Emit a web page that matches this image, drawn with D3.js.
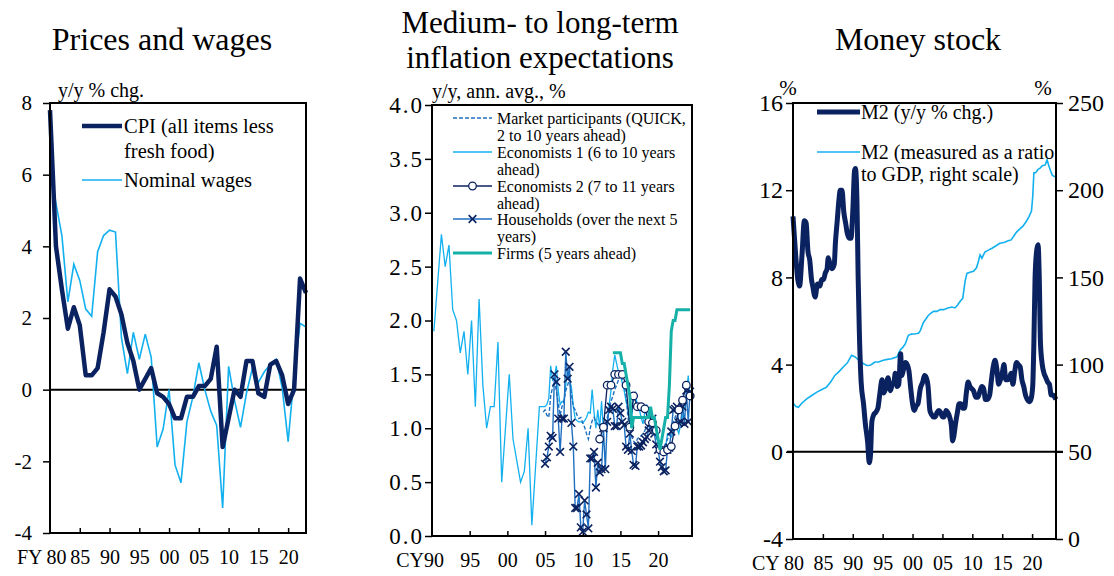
<!DOCTYPE html>
<html>
<head>
<meta charset="utf-8">
<script src="https://cdn.jsdelivr.net/npm/d3@7"></script>
<style>
  body { margin: 0; background: #fff; }
  text { font-family: "Liberation Serif", "Times New Roman", serif; fill: #000; }
</style>
</head>
<body>
<svg id="chart" width="1114" height="576"></svg>
<script>
// ---- data: prices and wages (fiscal years) ----
var fyYears = d3.range(1980, 2024);
var cpiValues = [7.8, 4.0, 2.8, 1.7, 2.3, 1.8, 0.4, 0.4, 0.6, 1.6, 2.8, 2.6, 2.1, 1.3, 0.8, 0.0, 0.3, 0.6, -0.1, -0.2,
  -0.4, -0.8, -0.8, -0.2, -0.2, 0.1, 0.1, 0.3, 1.2, -1.6, -0.8, 0.0, -0.2, 0.8, 0.8, -0.1, -0.2, 0.7, 0.8, 0.4,
  -0.4, 0.0, 3.1, 2.7];
var wageValues = [6.2, 5.2, 4.3, 2.45, 3.5, 3.05, 2.25, 2.05, 3.85, 4.3, 4.45, 4.4, 1.45, 0.45, 1.6, 0.85, 1.55, 0.9, -1.6, -1.1,
  0.0, -2.1, -2.6, -0.9, -0.2, 0.75, 0.0, -0.6, -1.0, -3.3, 0.65, -0.3, -1.05, -0.1, 0.6, 0.2, 0.5, 0.7, 0.85, 0.05,
  -1.45, 0.4, 1.85, 1.75];
var pwTicksX = [1980, 1985, 1990, 1995, 2000, 2005, 2010, 2015, 2020];
var pwTicksY = [-4, -2, 0, 2, 4, 6, 8];

// ---- data: inflation expectations [year, %] ----
var marketData = [[2004.75,1.15],[2005,1.17],[2005.25,1.12],[2005.5,1.1],[2005.75,1.3],[2006,1.38],[2006.25,1.44],[2006.5,1.35],
  [2006.75,1.23],[2007,1.12],[2007.25,1.2],[2007.5,1.25],[2007.75,1.35],[2008,1.4],[2008.25,1.46],[2008.5,1.32],[2008.75,1.2],
  [2009,1.17],[2009.25,1.12],[2009.5,1.09],[2009.75,1.1],[2010,1.05],[2010.25,1.01],[2010.5,0.95],[2010.75,0.9],[2011,1.0],
  [2011.25,1.07],[2011.5,1.1],[2011.75,1.06],[2012,1.04],[2012.25,1.02],[2012.5,1.01],[2012.75,1.02],[2013,1.04],[2013.25,1.1],
  [2013.5,1.17],[2013.75,1.25],[2014,1.3],[2014.25,1.36],[2014.5,1.4],[2014.75,1.45],[2015,1.5],[2015.25,1.45],[2015.5,1.4],
  [2015.75,1.3],[2016,1.1],[2016.25,1.02],[2016.5,0.92],[2016.75,0.88],[2017,0.86],[2017.25,0.9],[2017.5,0.92],[2017.75,0.93],
  [2018,0.95],[2018.25,0.98],[2018.5,1.02],[2018.75,1.04],[2019,1.0],[2019.25,0.98],[2019.5,0.95],[2019.75,0.92],[2020,0.88],
  [2020.25,0.84],[2020.5,0.8],[2020.75,0.82],[2021,0.86],[2021.25,0.9],[2021.5,0.93],[2021.75,1.0],[2022,1.05],[2022.25,1.1],
  [2022.5,1.14],[2022.75,1.17],[2023,1.19],[2023.25,1.2],[2023.5,1.23],[2023.75,1.27],[2024,1.32],[2024.25,1.35]];
var econ1Data = [[1990.25,1.9],[1990.75,2.35],[1991.25,2.8],[1991.75,2.5],[1992.25,2.7],[1992.75,2.1],[1993.25,2.0],[1993.75,1.7],
  [1994.25,1.9],[1994.75,1.5],[1995.25,2.0],[1995.75,1.2],[1996.25,2.2],[1996.75,1.4],[1997.25,1.0],[1997.75,1.2],[1998.25,1.2],
  [1998.75,1.8],[1999.25,0.5],[1999.75,1.0],[2000.25,1.5],[2000.75,0.9],[2001.25,0.7],[2001.75,0.5],[2002.25,0.6],[2002.75,1.0],
  [2003.25,0.1],[2003.75,0.65],[2004.25,1.2],[2004.75,1.2],[2005,1.2],[2005.25,1.22],[2005.5,1.28],[2005.75,1.58],[2006,1.45],
  [2006.25,1.48],[2006.5,1.58],[2006.75,1.35],[2007,1.22],[2007.25,1.25],[2007.5,1.25],[2007.75,1.4],[2008,1.55],[2008.25,1.45],
  [2008.5,1.38],[2008.75,1.2],[2009,1.09],[2009.25,1.07],[2009.5,1.06],[2009.75,1.06],[2010,1.05],[2010.25,1.07],[2010.5,1.1],
  [2010.75,1.15],[2011,1.14],[2011.25,1.36],[2011.5,1.15],[2011.75,1.0],[2012,1.17],[2012.25,1.0],[2012.5,1.25],[2012.75,0.98],
  [2013,1.02],[2013.25,1.0],[2013.5,1.21],[2013.75,1.35],[2014,1.55],[2014.25,1.68],[2014.5,1.6],[2014.75,1.52],[2015,1.5],
  [2015.25,1.42],[2015.5,1.35],[2015.75,1.25],[2016,1.18],[2016.25,1.05],[2016.5,1.1],[2016.75,1.3],[2017,1.33],[2017.25,1.2],
  [2017.5,1.18],[2017.75,1.1],[2018,1.04],[2018.25,1.15],[2018.5,1.22],[2018.75,1.1],[2019,1.06],[2019.25,1.1],[2019.5,1.0],
  [2019.75,0.92],[2020,0.88],[2020.25,0.85],[2020.5,0.83],[2020.75,0.8],[2021,0.82],[2021.25,0.95],[2021.5,0.95],[2021.75,0.92],
  [2022,0.95],[2022.25,1.05],[2022.5,1.0],[2022.75,0.95],[2023,1.04],[2023.25,1.1],[2023.5,1.23],[2023.75,1.3],[2024,1.49],[2024.25,1.26]];
var econ2Data = [[2012.25,0.9],[2012.75,1.01],[2013.25,1.4],[2013.75,1.4],[2014.25,1.5],[2014.75,1.5],[2015.25,1.5],[2015.75,1.4],
  [2016.25,1.01],[2016.75,1.3],[2017.25,1.2],[2017.75,1.2],[2018.25,1.18],[2018.75,1.06],[2019.25,1.05],[2019.75,0.98],[2020.25,0.8],
  [2020.75,0.78],[2021.25,0.8],[2021.75,0.83],[2022.25,1.02],[2022.75,1.17],[2023.25,1.26],[2023.75,1.4],[2024.25,1.3]];
var householdData = [[2005,0.67],[2005.25,0.73],[2005.5,0.83],[2005.75,0.93],[2006,0.91],[2006.25,1.5],[2006.5,1.43],[2006.75,1.09],
  [2007,0.78],[2007.25,1.09],[2007.5,1.09],[2007.75,1.71],[2008,1.46],[2008.25,1.57],[2008.5,1.05],[2008.75,0.83],[2009,0.26],
  [2009.25,0.26],[2009.5,0.39],[2009.75,0.08],[2010,0.04],[2010.25,0.33],[2010.5,0.2],[2010.75,0.07],[2011,0.72],[2011.25,0.72],
  [2011.5,0.78],[2011.75,0.45],[2012,0.68],[2012.25,0.59],[2012.5,0.62],[2012.75,1.0],[2013,0.62],[2013.25,1.06],[2013.5,1.17],
  [2013.75,1.2],[2014,1.18],[2014.25,1.02],[2014.5,1.02],[2014.75,1.2],[2015,1.14],[2015.25,1.06],[2015.5,1.03],[2015.75,0.83],
  [2016,0.8],[2016.25,0.95],[2016.5,0.79],[2016.75,0.66],[2017,0.65],[2017.25,0.83],[2017.5,0.83],[2017.75,0.84],[2018,0.87],
  [2018.25,0.9],[2018.5,0.92],[2018.75,0.98],[2019,1.04],[2019.25,1.09],[2019.5,0.95],[2019.75,0.85],[2020,0.8],[2020.25,0.69],
  [2020.5,0.64],[2020.75,0.6],[2021,0.61],[2021.25,0.8],[2021.5,0.82],[2021.75,0.97],[2022,1.17],[2022.25,1.18],[2022.5,1.2],
  [2022.75,1.05],[2023,1.06],[2023.25,1.2],[2023.5,1.04],[2023.75,1.35],[2024,1.06],[2024.25,1.34]];
var firmsData = [[2014,1.7],[2014.25,1.7],[2014.5,1.7],[2014.75,1.7],[2015,1.7],[2015.25,1.6],[2015.5,1.6],[2015.75,1.5],[2016,1.4],
  [2016.25,1.3],[2016.5,1.0],[2016.75,1.1],[2017,1.1],[2017.25,1.1],[2017.5,1.1],[2017.75,1.1],[2018,1.1],[2018.25,1.1],[2018.5,1.1],
  [2018.75,1.1],[2019,1.2],[2019.25,1.1],[2019.5,1.1],[2019.75,1.0],[2020,0.9],[2020.25,0.8],[2020.5,0.9],[2020.75,1.0],[2021,1.1],
  [2021.25,1.1],[2021.5,1.4],[2021.75,1.9],[2022,2.0],[2022.25,2.0],[2022.5,2.1],[2022.75,2.1],[2023,2.1],[2023.25,2.1],[2023.5,2.1],
  [2023.75,2.1],[2024,2.1],[2024.25,2.1]];
var exTicksX = [1990, 1995, 2000, 2005, 2010, 2015, 2020];
var exTicksY = [0, 0.5, 1, 1.5, 2, 2.5, 3, 3.5, 4];

// ---- data: money stock [year, value] ----
var m2Growth = [[1980,10.8],[1980.4,9.2],[1980.8,7.9],[1981.1,7.6],[1981.5,9.0],[1981.9,10.6],[1982.2,10.5],[1982.5,9.2],[1982.8,8.8],
  [1983.1,7.9],[1983.3,7.6],[1983.7,7.1],[1984.1,7.7],[1984.5,7.6],[1984.8,7.9],[1985.1,7.9],[1985.4,8.2],[1985.7,8.4],[1985.9,8.9],
  [1986.2,8.6],[1986.5,8.4],[1986.9,8.6],[1987.1,9.6],[1987.4,10.6],[1987.7,11.6],[1987.9,12.0],[1988.2,12.0],[1988.5,11.0],
  [1988.8,10.5],[1989.1,10.0],[1989.4,9.8],[1989.7,9.8],[1990,11.0],[1990.3,12.9],[1990.45,13.0],[1990.7,11.5],[1990.9,8.0],
  [1991.1,5.5],[1991.4,3.2],[1991.8,2.2],[1992.1,1.3],[1992.5,0.4],[1992.75,-0.5],[1992.95,-0.2],[1993.2,1.4],[1993.5,1.7],
  [1993.8,1.8],[1994.2,2.0],[1994.5,2.6],[1994.9,3.3],[1995.2,2.7],[1995.5,2.9],[1995.9,3.4],[1996.3,2.8],[1996.6,3.1],[1996.9,3.2],
  [1997.1,3.6],[1997.4,3.0],[1997.7,3.1],[1998,4.5],[1998.2,3.5],[1998.5,3.8],[1998.8,4.1],[1999.1,4.0],[1999.4,3.7],[1999.7,2.9],
  [2000,2.2],[2000.3,1.9],[2000.6,2.1],[2000.9,2.2],[2001.3,2.9],[2001.7,3.2],[2002,3.5],[2002.3,3.4],[2002.6,3.0],[2002.9,1.9],
  [2003.2,1.7],[2003.5,1.6],[2003.8,1.6],[2004.1,1.8],[2004.4,1.9],[2004.7,1.8],[2005,1.6],[2005.3,1.6],[2005.6,1.9],[2005.9,1.8],
  [2006.2,1.6],[2006.5,1.2],[2006.7,0.5],[2006.9,0.7],[2007.2,1.3],[2007.5,1.8],[2007.8,2.2],[2008.1,2.2],[2008.4,2.0],[2008.7,2.0],
  [2009,2.7],[2009.3,3.2],[2009.6,3.0],[2009.9,2.9],[2010.2,2.8],[2010.6,2.5],[2010.9,2.5],[2011.3,2.8],[2011.6,3.0],[2011.9,2.9],
  [2012.2,2.4],[2012.5,2.4],[2012.9,2.6],[2013.2,3.3],[2013.5,3.9],[2013.8,4.2],[2014.1,3.8],[2014.4,3.1],[2014.7,3.3],[2015,3.6],
  [2015.3,4.0],[2015.6,3.3],[2015.9,3.3],[2016.2,3.4],[2016.5,3.6],[2016.8,3.1],[2017.1,3.7],[2017.4,4.1],[2017.7,4.0],[2018,3.9],
  [2018.3,3.3],[2018.6,3.0],[2018.9,2.6],[2019.2,2.4],[2019.5,2.3],[2019.8,2.4],[2020.1,3.0],[2020.3,5.0],[2020.5,8.0],[2020.8,9.3],
  [2021,9.5],[2021.2,8.0],[2021.4,5.0],[2021.7,4.0],[2022,3.6],[2022.3,3.4],[2022.6,3.2],[2022.9,3.1],[2023.2,2.6],[2023.5,2.6],
  [2023.8,2.5],[2024,2.4]];
var m2Ratio = [[1980,78],[1980.5,76],[1980.9,75.5],[1981.5,78],[1982.3,80.4],[1983,82],[1984,84.2],[1985,86],[1985.6,87.1],
  [1986.3,90],[1987,93.8],[1987.7,96],[1988.4,98.6],[1989.1,101],[1989.8,105.3],[1990.4,104.4],[1991,102.5],[1991.8,100.5],
  [1992.4,99.5],[1992.9,99.6],[1993.3,100.5],[1993.7,101.5],[1994.3,101.5],[1995.1,102.5],[1995.8,103],[1996.5,103.4],[1997,104],
  [1997.4,104.4],[1997.9,108.2],[1998.4,110],[1998.8,112],[1999.3,116.8],[1999.8,117.5],[2000.5,117.7],[2001,118],[2001.3,119.5],
  [2001.8,124],[2002.2,126],[2002.6,128],[2003,129.3],[2003.5,130.5],[2004.1,130.5],[2004.6,131.5],[2005.2,131.5],[2005.9,132.5],
  [2006.6,133],[2007.1,132.5],[2007.5,134],[2008,136.5],[2008.4,138],[2008.8,148],[2009.1,152.3],[2009.6,153],[2010.2,153.5],
  [2010.7,155.5],[2011,159],[2011.3,162.9],[2011.6,161],[2012.1,164.5],[2012.6,165.5],[2013.3,166.7],[2013.9,168],[2014.6,169.6],
  [2015.3,170],[2016,171],[2016.5,171.5],[2017,174],[2017.4,176],[2018,178],[2018.5,179.5],[2019.1,182.5],[2019.5,185],[2019.9,188],
  [2020.1,196],[2020.3,210],[2020.6,210],[2021,212],[2021.3,212.5],[2021.7,214],[2022.2,214.5],[2022.5,217.5],[2022.8,214],
  [2023.1,211],[2023.4,208.5],[2023.9,207.6],[2024,207.8]];
var msTicksX = [1980, 1985, 1990, 1995, 2000, 2005, 2010, 2015, 2020];
var msTicksLeft = [-4, 0, 4, 8, 12, 16];
var msTicksRight = [0, 50, 100, 150, 200, 250];

// colours
var navy = "#0b2260", light = "#12b0ef", mid = "#1f6fc0", teal = "#15b0a8";

var svg = d3.select("#chart");

function yy(d) { return String(d % 100).padStart(2, "0"); }
function plain(d) { return String(d); }   // keeps the ASCII hyphen on negatives

// x axis along the bottom with inward ticks, first label gets a prefix
function bottomAxis(x, y0, ticks, prefix, prefixEnd) {
  var g = svg.append("g").attr("transform", "translate(0," + y0 + ")")
    .call(d3.axisBottom(x).tickValues(ticks).tickSize(-5).tickPadding(17).tickFormat(yy));
  g.select(".domain").remove();
  g.selectAll("line").attr("stroke", "#000").attr("stroke-width", 1.5);
  g.selectAll("text").style("font-size", "20px");
  var first = g.selectAll(".tick").filter(function (d) { return d === ticks[0]; });
  first.select("line").remove();
  first.select("text").text(prefix + yy(ticks[0])).attr("text-anchor", "end").attr("x", prefixEnd);
  return g;
}

function sideAxis(axis, xpos, fmt, pad, size, spacing) {
  var g = svg.append("g").attr("transform", "translate(" + xpos + ",0)")
    .call(axis.tickSize(7).tickPadding(pad).tickFormat(fmt));
  g.select(".domain").remove();
  g.selectAll("line").attr("stroke", "#000").attr("stroke-width", 1.5);
  g.selectAll("text").style("font-size", size + "px").style("letter-spacing", (spacing || 0) + "px");
  return g;
}

function frame(x0, y0, x1, y1) {
  svg.append("rect").attr("x", x0).attr("y", y0).attr("width", x1 - x0).attr("height", y1 - y0)
    .attr("fill", "none").attr("stroke", "#000").attr("stroke-width", 2);
}

function label(txt, x, y, size, anchor) {
  return svg.append("text").attr("x", x).attr("y", y).attr("text-anchor", anchor || "start")
    .style("font-size", size + "px").text(txt);
}

// =============== Panel 1: prices and wages ===============
(function () {
  var x = d3.scaleLinear().domain([1980, 2023]).range([50, 306]);
  var y = d3.scaleLinear().domain([-4, 8]).range([533, 103]);

  sideAxis(d3.axisLeft(y).tickValues(pwTicksY), 50, plain, 11, 21);
  bottomAxis(x, 533, pwTicksX, "FY\u2009", 16);

  svg.append("line").attr("x1", x(1980)).attr("x2", x(2023)).attr("y1", y(0)).attr("y2", y(0))
    .attr("stroke", "#000").attr("stroke-width", 2);

  var line = d3.line().x(function (d, i) { return x(fyYears[i]); }).y(function (d) { return y(d); });
  svg.append("path").attr("d", line(wageValues)).attr("fill", "none").attr("stroke", light).attr("stroke-width", 1.6);
  svg.append("path").attr("d", line(cpiValues)).attr("fill", "none").attr("stroke", navy).attr("stroke-width", 4.5)
    .attr("stroke-linejoin", "round");

  frame(50, 103, 306, 533);

  label("Prices and wages", 162, 50, 32, "middle");
  label("y/y % chg.", 58, 97, 20);

  // legend
  svg.append("line").attr("x1", 82).attr("x2", 122).attr("y1", 126).attr("y2", 126).attr("stroke", navy).attr("stroke-width", 4.5);
  label("CPI (all items less", 124, 133, 20.5);
  label("fresh food)", 124, 158, 20.5);
  svg.append("line").attr("x1", 82).attr("x2", 122).attr("y1", 180).attr("y2", 180).attr("stroke", light).attr("stroke-width", 1.6);
  label("Nominal wages", 124, 187, 20.5);
})();

// =============== Panel 2: inflation expectations ===============
(function () {
  var x = d3.scaleLinear().domain([1990, 2024.5]).range([432, 692]);
  var y = d3.scaleLinear().domain([0, 4]).range([536, 105]);

  sideAxis(d3.axisLeft(y).tickValues(exTicksY), 432, d3.format(".1f"), 1, 23, 2);
  bottomAxis(x, 536, exTicksX, "CY", 11.5);

  var line = d3.line().x(function (d) { return x(d[0]); }).y(function (d) { return y(d[1]); });
  var xSym = d3.symbol().type(d3.symbolX).size(40);

  svg.append("path").attr("d", line(econ1Data)).attr("fill", "none").attr("stroke", light).attr("stroke-width", 1.3);
  svg.append("path").attr("d", line(marketData)).attr("fill", "none").attr("stroke", mid).attr("stroke-width", 1.4)
    .attr("stroke-dasharray", "4,2");
  svg.append("path").attr("d", line(householdData)).attr("fill", "none").attr("stroke", mid).attr("stroke-width", 1.4);
  svg.selectAll(".hh").data(householdData).enter().append("path").attr("class", "hh")
    .attr("transform", function (d) { return "translate(" + x(d[0]) + "," + y(d[1]) + ")"; })
    .attr("d", xSym).attr("fill", "none").attr("stroke", navy).attr("stroke-width", 1.6);
  svg.append("path").attr("d", line(econ2Data)).attr("fill", "none").attr("stroke", navy).attr("stroke-width", 1.3);
  svg.selectAll(".e2").data(econ2Data).enter().append("circle").attr("class", "e2")
    .attr("cx", function (d) { return x(d[0]); }).attr("cy", function (d) { return y(d[1]); })
    .attr("r", 3.8).attr("fill", "#fff").attr("stroke", navy).attr("stroke-width", 1.3);
  svg.append("path").attr("d", line(firmsData)).attr("fill", "none").attr("stroke", teal).attr("stroke-width", 3);

  frame(432, 105, 692, 536);

  label("Medium- to long-term", 540, 33, 31, "middle");
  label("inflation expectations", 540, 68, 31, "middle");
  label("y/y, ann. avg., %", 432, 98, 20);

  // legend
  var lx0 = 453, lx1 = 492, tx = 497, fs = 16;
  function legLine(yv, color, width, dash) {
    var l = svg.append("line").attr("x1", lx0).attr("x2", lx1).attr("y1", yv).attr("y2", yv)
      .attr("stroke", color).attr("stroke-width", width);
    if (dash) l.attr("stroke-dasharray", dash);
  }
  legLine(118, mid, 1.4, "4,2");
  label("Market participants (QUICK,", tx, 124, fs);
  label("2 to 10 years ahead)", tx, 141, fs);
  legLine(152, light, 1.3);
  label("Economists 1 (6 to 10 years", tx, 158, fs);
  label("ahead)", tx, 175, fs);
  legLine(186, navy, 1.3);
  svg.append("circle").attr("cx", (lx0 + lx1) / 2).attr("cy", 186).attr("r", 3.8)
    .attr("fill", "#fff").attr("stroke", navy).attr("stroke-width", 1.3);
  label("Economists 2 (7 to 11 years", tx, 192, fs);
  label("ahead)", tx, 209, fs);
  legLine(219, mid, 1.4);
  svg.append("path").attr("transform", "translate(" + (lx0 + lx1) / 2 + ",219)").attr("d", xSym)
    .attr("fill", "none").attr("stroke", navy).attr("stroke-width", 1.6);
  label("Households (over the next 5", tx, 225, fs);
  label("years)", tx, 242, fs);
  legLine(253, teal, 3);
  label("Firms (5 years ahead)", tx, 259, fs);
})();

// =============== Panel 3: money stock ===============
(function () {
  var x = d3.scaleLinear().domain([1980, 2024]).range([793, 1056]);
  var yL = d3.scaleLinear().domain([-4, 16]).range([539, 103]);
  var yR = d3.scaleLinear().domain([0, 250]).range([539, 103]);

  sideAxis(d3.axisLeft(yL).tickValues(msTicksLeft), 793, plain, 3, 24);
  sideAxis(d3.axisRight(yR).tickValues(msTicksRight), 1056, plain, 5, 24);
  bottomAxis(x, 539, msTicksX, "CY ", 10.5);

  svg.append("line").attr("x1", 787).attr("x2", 1063).attr("y1", yL(0)).attr("y2", yL(0))
    .attr("stroke", "#000").attr("stroke-width", 2);

  var lineL = d3.line().x(function (d) { return x(d[0]); }).y(function (d) { return yL(d[1]); }).curve(d3.curveMonotoneX);
  var lineR = d3.line().x(function (d) { return x(d[0]); }).y(function (d) { return yR(d[1]); });

  svg.append("path").attr("d", lineR(m2Ratio)).attr("fill", "none").attr("stroke", light).attr("stroke-width", 1.6);
  svg.append("path").attr("d", lineL(m2Growth)).attr("fill", "none").attr("stroke", navy).attr("stroke-width", 5)
    .attr("stroke-linejoin", "round");

  frame(793, 103, 1056, 539);

  label("Money stock", 918, 50, 32, "middle");
  label("%", 788, 95, 21, "middle");
  label("%", 1043, 95, 21, "middle");

  svg.append("line").attr("x1", 817).attr("x2", 860).attr("y1", 112).attr("y2", 112).attr("stroke", navy).attr("stroke-width", 5);
  label("M2 (y/y % chg.)", 861, 119, 20);
  svg.append("line").attr("x1", 817).attr("x2", 860).attr("y1", 152).attr("y2", 152).attr("stroke", light).attr("stroke-width", 1.6);
  label("M2 (measured as a ratio", 861, 159, 20);
  label("to GDP, right scale)", 861, 181, 20);
})();
</script>
</body>
</html>
